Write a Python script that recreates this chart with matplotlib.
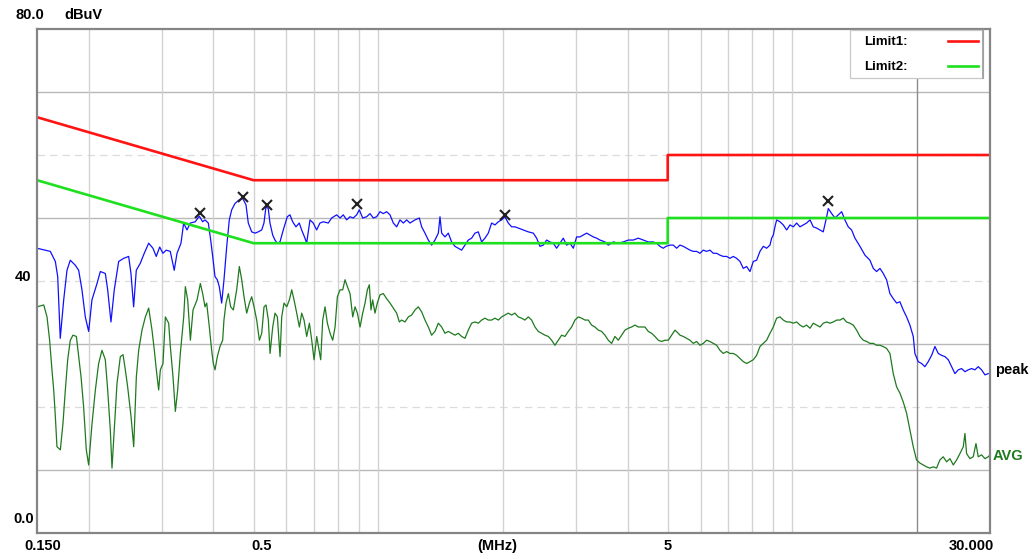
import matplotlib
matplotlib.use("Agg")
import matplotlib.pyplot as plt
from matplotlib.lines import Line2D
from matplotlib.patches import Rectangle

# ---------------------------------------------------------------
# data (frequency in MHz, level in dBuV)
# ---------------------------------------------------------------

LIMIT1_FREQ = [0.15, 0.5, 5.0, 5.0, 30.0]
LIMIT1_LEVEL = [66, 56, 56, 60, 60]
LIMIT2_FREQ = [0.15, 0.5, 5.0, 5.0, 30.0]
LIMIT2_LEVEL = [56, 46, 46, 50, 50]

PEAK_FREQ = [
    0.150, 0.1615, 0.1661, 0.1683, 0.1707, 0.1740, 0.1772, 0.1805, 0.1856, 0.1891,
    0.1926, 0.1962, 0.1999, 0.2036, 0.2094, 0.2133, 0.2193, 0.2222, 0.2263, 0.2305,
    0.2362, 0.2429, 0.2497, 0.2529, 0.2567, 0.2605, 0.2663, 0.2723, 0.2791, 0.2858,
    0.2911, 0.2967, 0.3021, 0.3077, 0.3147, 0.3217, 0.3267, 0.3340, 0.3390, 0.3453,
    0.3517, 0.3616, 0.3697, 0.3768, 0.3817, 0.3888, 0.3940, 0.3984, 0.4035, 0.4087,
    0.4133, 0.4188, 0.4242, 0.4306, 0.4369, 0.4428, 0.4509, 0.4619, 0.4707, 0.4794,
    0.4856, 0.4948, 0.5040, 0.5133, 0.5231, 0.5298, 0.5358, 0.5426, 0.5478, 0.5561,
    0.5632, 0.5705, 0.5791, 0.5898, 0.6031, 0.6122, 0.6214, 0.6330, 0.6447, 0.6533,
    0.6654, 0.6717, 0.6842, 0.6968, 0.7101, 0.7233, 0.7367, 0.7575, 0.7719, 0.7937,
    0.8084, 0.8233, 0.8390, 0.8546, 0.8704, 0.8870, 0.9000, 0.9172, 0.9376, 0.9552,
    0.9730, 0.9912, 1.0098, 1.0287, 1.0479, 1.0676, 1.0875, 1.1079, 1.1286, 1.1497,
    1.1712, 1.1931, 1.2267, 1.2566, 1.2730, 1.2968, 1.3211, 1.3458, 1.3710, 1.3967,
    1.4097, 1.4228, 1.4494, 1.4765, 1.5039, 1.5320, 1.5607, 1.5899, 1.6197, 1.6499,
    1.6808, 1.7122, 1.7443, 1.7769, 1.8101, 1.8440, 1.8785, 1.9136, 1.9494, 1.9858,
    2.0230, 2.0608, 2.0994, 2.1386, 2.1786, 2.2400, 2.3031, 2.3681, 2.4123, 2.4575,
    2.5034, 2.5502, 2.5980, 2.6465, 2.6960, 2.7465, 2.7978, 2.8502, 2.9035, 2.9578,
    3.0132, 3.0695, 3.1269, 3.1854, 3.2450, 3.3057, 3.3675, 3.4305, 3.5272, 3.5932,
    3.6945, 3.7986, 3.9056, 4.0157, 4.1288, 4.2452, 4.3650, 4.4879, 4.6144, 4.7007,
    4.7886, 4.8782, 4.9512, 5.0625, 5.1572, 5.2536, 5.352, 5.452, 5.554, 5.658,
    5.764, 5.872, 5.982, 6.093, 6.207, 6.324, 6.442, 6.562, 6.685, 6.810,
    6.938, 7.067, 7.200, 7.334, 7.472, 7.611, 7.754, 7.899, 8.046, 8.197,
    8.350, 8.507, 8.666, 8.828, 8.910, 8.993, 9.076, 9.161, 9.332, 9.507,
    9.685, 9.866, 10.05, 10.24, 10.43, 10.62, 10.82, 11.03, 11.23, 11.44,
    11.66, 11.87, 12.10, 12.21, 12.44, 12.67, 12.91, 13.15, 13.39, 13.64,
    13.90, 14.16, 14.56, 14.97, 15.39, 15.68, 15.97, 16.27, 16.57, 16.88,
    17.20, 17.52, 17.85, 18.18, 18.52, 18.87, 19.22, 19.58, 19.76, 20.13,
    20.51, 20.89, 21.28, 21.68, 22.09, 22.50, 22.92, 23.35, 23.79, 24.23,
    24.69, 25.15, 25.62, 26.10, 26.58, 27.08, 27.59, 28.10, 28.63, 29.17,
    29.71,
]
PEAK_LEVEL = [
    45.2, 44.7, 43.1, 40.7, 30.9, 37.0, 41.7, 43.3, 42.5, 41.7,
    38.6, 34.3, 32.0, 37.0, 39.6, 41.5, 41.2, 38.6, 33.5, 38.6,
    43.1, 43.6, 43.9, 41.2, 35.9, 41.7, 42.8, 44.4, 46.0, 45.2,
    43.9, 45.4, 44.4, 44.9, 44.7, 41.7, 44.4, 46.0, 49.2, 48.1,
    49.2, 49.4, 50.3, 49.4, 49.7, 49.2, 46.5, 43.9, 40.7, 40.2,
    39.1, 36.5, 40.2, 45.4, 49.7, 51.3, 52.3, 52.9, 53.1, 52.1,
    49.2, 47.8, 47.6, 47.8, 48.1, 49.2, 51.8, 51.5, 49.2, 47.3,
    46.5, 46.0, 46.2, 48.1, 50.2, 50.5, 49.4, 48.6, 49.2, 48.1,
    46.8, 46.0, 49.7, 49.2, 48.1, 49.2, 49.4, 49.2, 50.0, 50.5,
    50.0, 50.5, 49.7, 50.2, 50.0, 50.5, 51.3, 50.0, 50.2, 50.7,
    50.0, 50.2, 51.0, 50.7, 51.0, 50.5, 49.2, 48.6, 49.7, 49.2,
    49.7, 49.2, 49.7, 50.0, 48.6, 47.6, 46.5, 45.7, 46.5, 47.6,
    50.2, 47.6, 47.0, 47.6, 46.2, 45.5, 45.2, 44.9, 45.7, 46.5,
    46.8, 47.6, 47.8, 46.2, 46.8, 47.6, 49.2, 48.9, 49.4, 49.7,
    50.2, 49.2, 48.6, 48.6, 48.4, 48.1, 47.8, 47.6, 46.8, 45.5,
    45.7, 46.5, 46.2, 46.0, 45.2, 46.0, 46.8, 45.7, 46.0, 45.2,
    47.0, 47.0, 47.3, 47.6, 47.3, 47.0, 46.8, 46.5, 46.2, 45.7,
    46.2, 46.0, 46.2, 46.5, 46.5, 46.8, 46.5, 46.2, 46.2, 46.0,
    45.5, 45.2, 45.5, 45.7, 45.7, 45.2, 45.7, 45.5, 45.2, 44.9,
    44.7, 44.7, 44.4, 44.9, 44.7, 44.9, 44.4, 44.4, 44.1, 43.9,
    43.9, 43.6, 43.9, 43.6, 43.1, 42.0, 42.3, 41.5, 43.1, 43.3,
    44.7, 45.5, 45.2, 45.7, 46.8, 47.3, 48.6, 49.7, 49.4, 48.9,
    48.1, 48.9, 48.6, 49.2, 48.6, 48.9, 49.2, 49.7, 48.6, 48.4,
    48.1, 47.8, 50.2, 51.5, 50.7, 50.0, 50.5, 51.0, 49.7, 48.6,
    48.1, 46.8, 45.5, 44.1, 43.3, 42.0, 41.5, 42.0, 41.2, 40.2,
    38.0, 37.2, 36.5, 36.7, 35.4, 34.3, 33.0, 31.2, 28.5, 27.2,
    26.9, 26.4, 27.2, 28.2, 29.6, 28.5, 28.2, 28.0, 27.5, 26.4,
    25.3, 25.9, 26.1, 25.6, 25.9, 26.1, 25.9, 26.4, 25.9, 25.1,
    25.3,
]

AVG_FREQ = [
    0.150, 0.1557, 0.1586, 0.1609, 0.1630, 0.1646, 0.1661, 0.1676, 0.1708, 0.1733,
    0.1756, 0.1779, 0.1805, 0.1832, 0.1867, 0.1891, 0.1916, 0.1944, 0.1973, 0.1999,
    0.2037, 0.2075, 0.2113, 0.2153, 0.2193, 0.2222, 0.2255, 0.2276, 0.2310, 0.2340,
    0.2384, 0.2420, 0.2451, 0.2483, 0.2530, 0.2568, 0.2606, 0.2640, 0.2689, 0.2740,
    0.2791, 0.2843, 0.2880, 0.2912, 0.2950, 0.2978, 0.3022, 0.3062, 0.3119, 0.3148,
    0.3195, 0.3237, 0.3279, 0.3328, 0.3391, 0.3422, 0.3467, 0.3519, 0.3571, 0.3652,
    0.3720, 0.3768, 0.3817, 0.3853, 0.3910, 0.3961, 0.3998, 0.4036, 0.4088, 0.4149,
    0.4211, 0.4241, 0.4290, 0.4346, 0.4403, 0.4469, 0.4552, 0.4620, 0.4681, 0.4742,
    0.4813, 0.4885, 0.4949, 0.5013, 0.5088, 0.5164, 0.5232, 0.5300, 0.5359, 0.5429,
    0.5480, 0.5562, 0.5634, 0.5708, 0.5793, 0.5847, 0.5923, 0.6012, 0.6102, 0.6182,
    0.6262, 0.6356, 0.6451, 0.6535, 0.6620, 0.6719, 0.6820, 0.6909, 0.6999, 0.7103,
    0.7170, 0.7263, 0.7344, 0.7440, 0.7537, 0.7650, 0.7764, 0.7866, 0.7968, 0.8087,
    0.8208, 0.8315, 0.8424, 0.8550, 0.8678, 0.8791, 0.8906, 0.9039, 0.9173, 0.9293,
    0.9414, 0.9516, 0.9605, 0.9694, 0.9821, 0.9949, 1.0098, 1.0287, 1.0479, 1.0676,
    1.0875, 1.1079, 1.1244, 1.1391, 1.1604, 1.1821, 1.2042, 1.2267, 1.2497, 1.2730,
    1.2968, 1.3211, 1.3458, 1.3710, 1.3967, 1.4228, 1.4494, 1.4765, 1.5039, 1.5320,
    1.5607, 1.5899, 1.6197, 1.6499, 1.6808, 1.7122, 1.7443, 1.7769, 1.8101, 1.8440,
    1.8785, 1.9136, 1.9494, 1.9858, 2.0230, 2.0608, 2.0994, 2.1386, 2.1786, 2.2185,
    2.2600, 2.3031, 2.3462, 2.3901, 2.4348, 2.4803, 2.5267, 2.5739, 2.6220, 2.6711,
    2.7211, 2.7720, 2.8239, 2.8767, 2.9305, 2.9853, 3.0412, 3.0980, 3.1560, 3.2150,
    3.2752, 3.3364, 3.3988, 3.4624, 3.5272, 3.5932, 3.6604, 3.7289, 3.7986, 3.8695,
    3.9418, 4.0157, 4.0908, 4.1672, 4.2452, 4.3246, 4.4055, 4.4879, 4.5719, 4.6574,
    4.7445, 4.8332, 4.9236, 5.0158, 5.1097, 5.2053, 5.3027, 5.352, 5.452, 5.554,
    5.658, 5.764, 5.872, 5.982, 6.093, 6.207, 6.324, 6.442, 6.562, 6.685,
    6.810, 6.938, 7.067, 7.200, 7.334, 7.472, 7.611, 7.754, 7.899, 8.046,
    8.197, 8.350, 8.507, 8.666, 8.828, 8.993, 9.161, 9.332, 9.507, 9.685,
    9.866, 10.05, 10.24, 10.43, 10.62, 10.82, 11.03, 11.23, 11.44, 11.66,
    11.87, 12.10, 12.33, 12.55, 12.79, 13.03, 13.27, 13.51, 13.77, 14.03,
    14.29, 14.56, 14.83, 15.11, 15.39, 15.68, 15.97, 16.27, 16.57, 16.88,
    17.20, 17.52, 17.85, 18.18, 18.52, 18.87, 19.22, 19.58, 19.94, 20.32,
    20.70, 21.08, 21.48, 21.88, 22.29, 22.71, 23.13, 23.57, 24.01, 24.46,
    24.92, 25.38, 25.86, 26.10, 26.34, 26.83, 27.33, 27.75, 28.10, 28.63,
    29.17, 29.71, 30.0,
]
AVG_LEVEL = [
    35.9, 36.2, 34.3, 30.6, 25.9, 22.7, 18.5, 13.7, 13.2, 17.4,
    22.7, 27.5, 30.6, 31.4, 31.2, 28.0, 24.8, 20.0, 13.2, 10.8,
    17.4, 22.7, 26.9, 29.0, 27.5, 22.7, 16.3, 10.3, 17.4, 23.7,
    28.0, 28.3, 25.9, 23.2, 18.5, 13.7, 24.8, 29.0, 32.2, 34.3,
    35.7, 32.2, 29.0, 25.9, 22.7, 25.9, 26.9, 34.3, 33.3, 29.6,
    24.8, 19.3, 22.7, 28.5, 34.3, 39.1, 37.0, 30.6, 35.4, 37.0,
    39.6, 38.0, 35.9, 36.5, 32.7, 29.0, 26.9, 25.9, 28.0, 29.6,
    30.6, 33.8, 36.5, 38.0, 35.9, 35.4, 38.6, 42.3, 40.2, 37.5,
    34.9, 36.5, 37.5, 35.9, 33.8, 30.6, 31.7, 35.9, 36.2, 33.8,
    28.5, 32.7, 34.9, 34.3, 28.0, 34.3, 36.5, 35.9, 37.0, 38.6,
    37.0, 34.9, 32.7, 34.9, 33.8, 31.2, 33.3, 30.6, 27.5, 31.2,
    29.6, 27.5, 33.8, 35.9, 33.3, 31.7, 30.6, 32.7, 37.5, 38.6,
    38.6, 40.2, 39.1, 38.0, 34.3, 35.9, 34.9, 32.7, 34.9, 36.5,
    38.6, 39.4, 35.4, 37.0, 34.9, 36.5, 37.8, 38.0, 37.2, 36.5,
    35.7, 34.9, 33.5, 33.8, 33.5, 34.3, 34.6, 35.4, 35.9, 35.1,
    33.8, 32.7, 31.4, 32.0, 33.3, 32.7, 31.7, 32.0, 31.7, 31.4,
    31.7, 31.2, 30.9, 32.2, 33.3, 33.5, 33.3, 33.8, 34.1, 33.8,
    33.8, 34.1, 33.8, 34.3, 34.6, 34.9, 34.6, 34.9, 34.3, 34.1,
    33.8, 34.3, 33.8, 32.7, 32.0, 31.7, 31.4, 31.2, 30.6, 29.8,
    30.6, 31.4, 31.2, 32.0, 32.7, 33.8, 34.3, 34.1, 33.8, 33.8,
    33.0, 32.7, 32.2, 32.0, 31.4, 30.6, 30.1, 31.2, 30.6, 31.4,
    32.2, 32.5, 32.7, 33.0, 32.7, 32.7, 32.7, 32.0, 31.7, 31.2,
    30.6, 30.4, 30.6, 30.6, 31.4, 32.2, 31.7, 31.4, 31.2, 30.9,
    30.6, 30.1, 30.4, 29.8, 30.1, 30.6, 30.4, 30.1, 29.8, 29.0,
    28.5, 28.8, 28.5, 28.5, 28.2, 27.7, 27.2, 26.9, 27.2, 27.5,
    28.2, 29.6, 30.1, 30.6, 31.7, 32.7, 34.1, 34.3, 33.8, 33.5,
    33.5, 33.3, 33.5, 33.0, 32.7, 33.0, 32.5, 33.3, 33.0, 32.7,
    33.3, 33.5, 33.3, 33.5, 33.8, 33.8, 34.1, 33.5, 33.3, 33.0,
    32.2, 31.2, 30.6, 30.4, 30.1, 30.1, 29.8, 29.8, 29.6, 29.3,
    28.5, 25.3, 23.2, 22.2, 20.8, 19.0, 16.4, 13.7, 11.6, 11.1,
    10.8, 10.5, 10.3, 10.5, 10.3, 11.6, 12.1, 11.3, 11.8, 10.8,
    11.6, 12.6, 13.7, 15.8, 12.6, 11.8, 12.1, 14.2, 12.1, 12.4,
    11.8, 12.1, 12.4,
]

MARK_FREQ = [0.371, 0.471, 0.539, 0.889, 2.02, 12.18]
MARK_LEVEL = [50.8, 53.3, 52.1, 52.2, 50.5, 52.7]

GRID_SOLID = [10, 30, 50, 70]
GRID_LIGHT = [20, 40, 60]
GRID_FREQ = [0.2, 0.3, 0.4, 0.5, 0.6, 0.7, 0.8, 0.9, 1, 2, 3, 4, 5, 6, 7, 8, 9, 10, 20]

# ---------------------------------------------------------------
# figure
# ---------------------------------------------------------------

W, H = 1033, 559
RED = "#ff1414"
LGREEN = "#1ee01e"
BLUE = "#1010ff"
DGREEN = "#1f7a1f"
FONT = "Liberation Sans"

fig = plt.figure(figsize=(W / 100, H / 100), dpi=100)
fig.patch.set_facecolor("white")
ax = fig.add_axes([37 / W, 26 / H, 953 / W, 504 / H])

ax.set_xscale("log")
ax.set_xlim(0.15, 30)
ax.set_ylim(0, 80)
ax.tick_params(which="both", length=0, labelbottom=False, labelleft=False)
for s in ax.spines.values():
    s.set_color("#858585")
    s.set_linewidth(1.6)
    s.set_zorder(6)

for y in GRID_SOLID:
    ax.axhline(y, color="#b8b8b8", lw=1.0, zorder=0)
for y in GRID_LIGHT:
    ax.axhline(y, color="#dcdcdc", lw=0.9, ls=(0, (6, 4)), zorder=0)
for f in GRID_FREQ:
    c = "#8c8c8c" if f == 20 else "#d2d2d2"
    ax.axvline(f, color=c, lw=1.0, zorder=0)

ax.plot(AVG_FREQ, AVG_LEVEL, color=DGREEN, lw=0.9, zorder=2)
ax.plot(PEAK_FREQ, PEAK_LEVEL, color=BLUE, lw=0.9, zorder=3)
ax.plot(LIMIT1_FREQ, LIMIT1_LEVEL, color=RED, lw=1.9, zorder=4)
ax.plot(LIMIT2_FREQ, LIMIT2_LEVEL, color=LGREEN, lw=1.9, zorder=4)
ax.plot(MARK_FREQ, MARK_LEVEL, ls="none", marker="x", color="#202020",
        ms=6.5, mew=1.5, zorder=5)


def px(x, y):
    return x / W, 1 - y / H


def label(x, y, s, ha="center", color="black", size=10.5):
    fig.text(*px(x, y), s, ha=ha, va="center", color=color,
             fontsize=size, fontweight="bold", family=FONT, zorder=8)


# axis texts
label(44, 15, "80.0", ha="right")
label(64, 15, "dBuV", ha="left")
label(31, 277, "40", ha="right")
label(34, 519, "0.0", ha="right")
label(43, 546, "0.150")
label(262, 546, "0.5")
label(497, 546, "(MHz)")
label(668, 546, "5")
label(971, 546, "30.000")

# trace labels
label(995, 370, "peak", ha="left")
label(993, 456, "AVG", ha="left", color=DGREEN)

# legend box (white, covers the grid behind it)
fig.add_artist(Rectangle(px(850, 78), 133 / W, 48 / H, transform=fig.transFigure,
                         facecolor="white", edgecolor="#c8c8c8", lw=0.9, zorder=7))
fig.add_artist(Line2D([983 / W, 983 / W], [1 - 30 / H, 1 - 78 / H], color="#9a9a9a",
                      lw=1.2, transform=fig.transFigure, zorder=7))
label(864, 42, "Limit1:", ha="left", size=9.5)
label(864, 67, "Limit2:", ha="left", size=9.5)
fig.add_artist(Line2D([948 / W, 978 / W], [1 - 41 / H] * 2, color=RED, lw=1.9,
                      transform=fig.transFigure, zorder=8))
fig.add_artist(Line2D([948 / W, 978 / W], [1 - 66 / H] * 2, color=LGREEN, lw=1.9,
                      transform=fig.transFigure, zorder=8))

fig.savefig("out.png", dpi=100, facecolor="white")
